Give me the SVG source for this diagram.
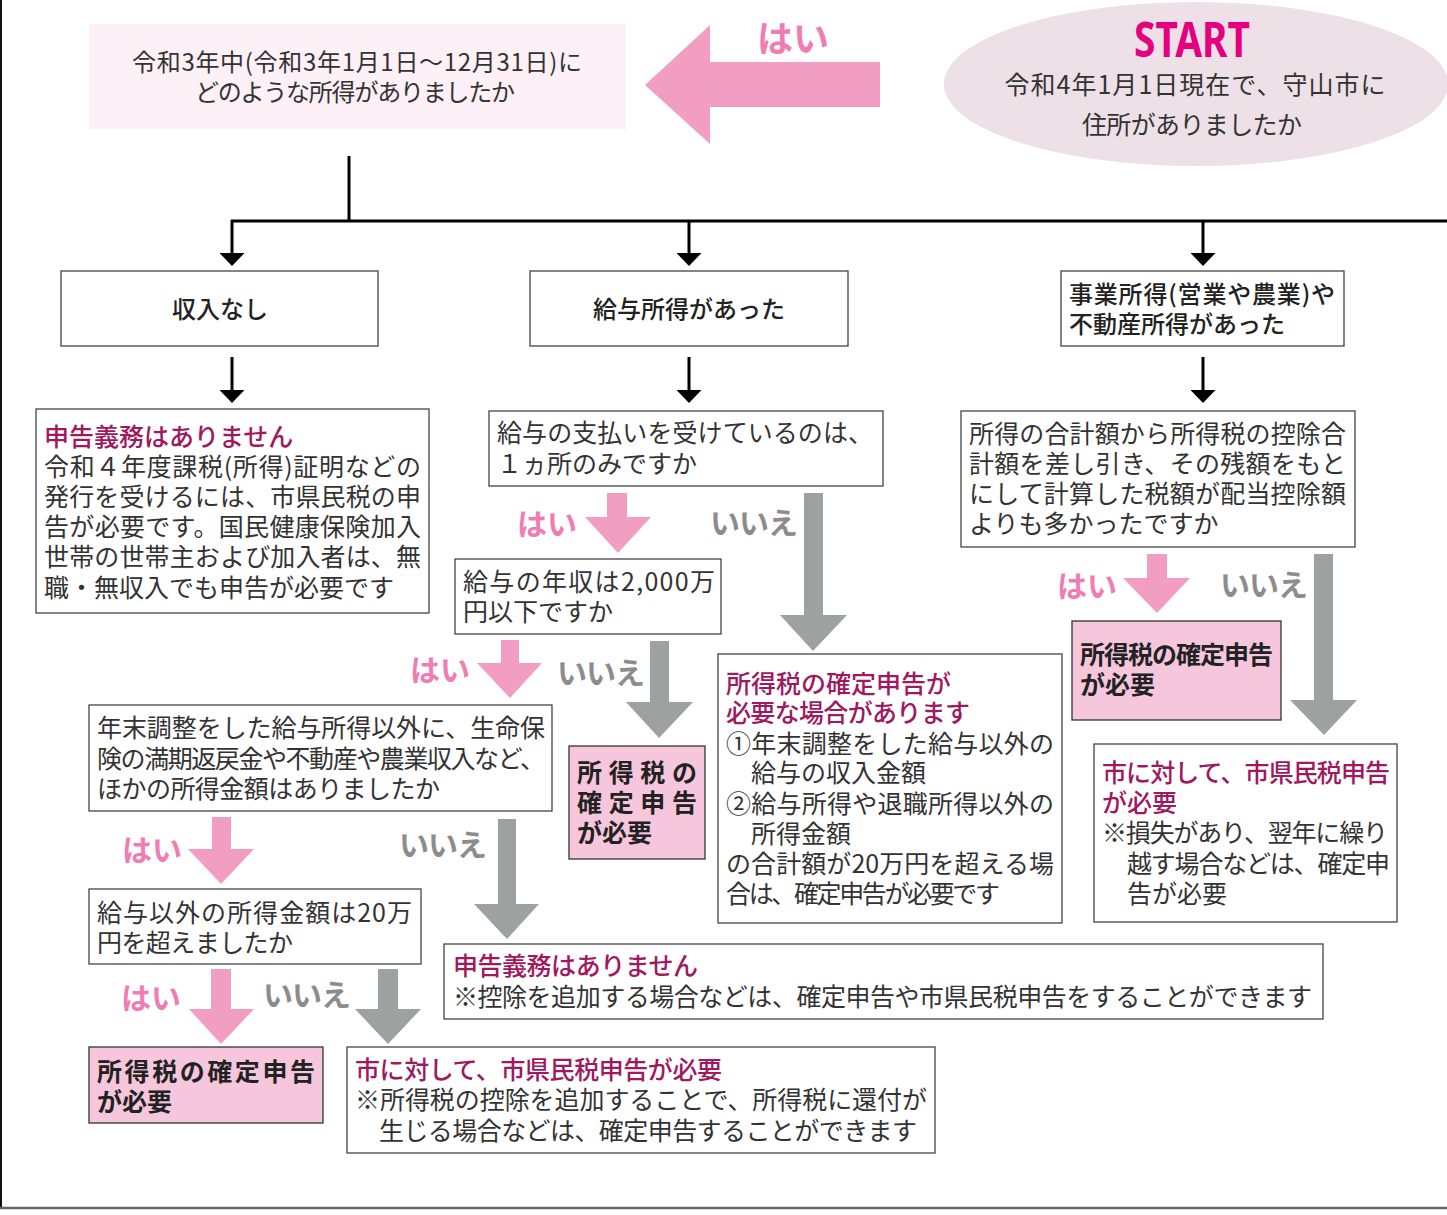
<svg xmlns="http://www.w3.org/2000/svg" width="1447" height="1215" viewBox="0 0 1447 1215">
<defs>
<style>
text{font-family:"Noto Sans CJK JP","Noto Sans",sans-serif;fill:#333;}
.t{font-size:25px;}
.m{font-size:25px;fill:#a0185e;font-weight:500;}
.h{font-size:24px;font-weight:500;fill:#222;}
.b{font-size:25px;font-weight:700;fill:#222;}
.yes{font-size:30px;font-weight:700;fill:#f07cb2;}
.no{font-size:30px;font-weight:700;fill:#8c8c8c;}
.box{fill:#fff;stroke:#444;stroke-width:1.3;}
.pbox{fill:#f6c7dc;stroke:#333;stroke-width:1.3;}
.pa{fill:#f19ec2;}
.ga{fill:#9fa0a0;}
.ln{fill:none;stroke:#000;stroke-width:3;}
</style>
<marker id="ah" viewBox="0 0 13 25" refX="5" refY="12.5" markerWidth="13" markerHeight="25" markerUnits="userSpaceOnUse" orient="auto">
<path d="M0,0 L13,12.5 L0,25 Z" fill="#000"/>
</marker>
</defs>
<rect x="0" y="0" width="1447" height="1215" fill="#fff"/>
<line x1="1" y1="0" x2="1" y2="1208" stroke="#111" stroke-width="2"/>
<line x1="0" y1="1208" x2="1447" y2="1208" stroke="#666" stroke-width="2.5"/>

<g id="connectors">
<polyline class="ln" points="349,156 349,221"/>
<polyline class="ln" points="231,221 1447,221"/>
<line class="ln" x1="232" y1="220" x2="232" y2="258" marker-end="url(#ah)"/>
<line class="ln" x1="689" y1="221" x2="689" y2="258" marker-end="url(#ah)"/>
<line class="ln" x1="1203" y1="221" x2="1203" y2="258" marker-end="url(#ah)"/>
<line class="ln" x1="232" y1="357" x2="232" y2="395" marker-end="url(#ah)"/>
<line class="ln" x1="689" y1="357" x2="689" y2="395" marker-end="url(#ah)"/>
<line class="ln" x1="1203" y1="357" x2="1203" y2="395" marker-end="url(#ah)"/>
<polygon class="pa" points="645,85 710,25 710,62 880,62 880,107 710,107 710,144"/>
<polygon class="pa" points="607,493 627,493 627,517 651,517 618,553 585,517 607,517"/>
<polygon class="ga" points="804,493 823,493 823,615 847,615 813,651 780,615 804,615"/>
<polygon class="pa" points="501,640 519,640 519,663 542,663 510,698 477,663 501,663"/>
<polygon class="ga" points="650,641 669,641 669,702 693,702 659,738 626,702 650,702"/>
<polygon class="pa" points="1147,554 1167,554 1167,578 1190,578 1157,613 1123,578 1147,578"/>
<polygon class="ga" points="1314,554 1333,554 1333,700 1357,700 1324,735 1290,700 1314,700"/>
<polygon class="pa" points="212,817 231,817 231,849 254,849 221,884 188,849 212,849"/>
<polygon class="ga" points="498,819 516,819 516,904 539,904 507,939 474,904 498,904"/>
<polygon class="pa" points="211,969 231,969 231,1009 254,1009 221,1044 189,1009 211,1009"/>
<polygon class="ga" points="378,969 398,969 398,1009 421,1009 388,1044 355,1009 378,1009"/>
<text x="757" y="52" style="font-size:36px;font-weight:700;fill:#f07cb2">はい</text>
<text class="yes" x="517" y="535">はい</text>
<text class="no" x="710" y="534" textLength="88">いいえ</text>
<text class="yes" x="410" y="681">はい</text>
<text class="no" x="557" y="684" textLength="88">いいえ</text>
<text class="yes" x="1057" y="597">はい</text>
<text class="no" x="1220" y="596" textLength="88">いいえ</text>
<text class="yes" x="122" y="861">はい</text>
<text class="no" x="399" y="856" textLength="88">いいえ</text>
<text class="yes" x="121" y="1009">はい</text>
<text class="no" x="263" y="1006" textLength="88">いいえ</text>
</g>

<g id="start">
<ellipse cx="1196" cy="84" rx="252" ry="82" fill="#ede0e7"/>
<text x="1192" y="57" text-anchor="middle" textLength="116" lengthAdjust="spacingAndGlyphs" style="font-family:'Noto Sans',sans-serif;font-size:48px;font-weight:700;fill:#e4007f">START</text>
<text class="t" x="1195" y="94" text-anchor="middle" textLength="381">令和4年1月1日現在で、守山市に</text>
<text class="t" x="1192" y="134" text-anchor="middle" textLength="220">住所がありましたか</text>
</g>

<g id="q-income">
<rect x="89" y="24" width="537" height="105" fill="#fdf0f6"/>
<text x="357" y="71" text-anchor="middle" textLength="450" style="font-size:24px">令和3年中(令和3年1月1日～12月31日)に</text>
<text x="355" y="101" text-anchor="middle" textLength="320" style="font-size:24px">どのような所得がありましたか</text>
</g>

<g id="no-income">
<rect class="box" x="61" y="271" width="317" height="75"/>
<text class="h" x="220" y="318" text-anchor="middle">収入なし</text>
</g>

<g id="salary">
<rect class="box" x="530" y="271" width="318" height="75"/>
<text class="h" x="689" y="318" text-anchor="middle">給与所得があった</text>
</g>

<g id="business">
<rect class="box" x="1061" y="271" width="283" height="75"/>
<text class="h" x="1069" y="303" textLength="266">事業所得(営業や農業)や</text>
<text class="h" x="1069" y="333">不動産所得があった</text>
</g>

<g id="no-duty-1">
<rect class="box" x="36" y="409" width="393" height="204"/>
<text class="m" x="44" y="446">申告義務はありません</text>
<text class="t" x="44" y="476" textLength="377">令和４年度課税(所得)証明などの</text>
<text class="t" x="44" y="506" textLength="377">発行を受けるには、市県民税の申</text>
<text class="t" x="44" y="536" textLength="377">告が必要です。国民健康保険加入</text>
<text class="t" x="44" y="566" textLength="377">世帯の世帯主および加入者は、無</text>
<text class="t" x="44" y="597">職・無収入でも申告が必要です</text>
</g>

<g id="q-one-payer">
<rect class="box" x="489" y="411" width="394" height="75"/>
<text class="t" x="497" y="442" textLength="376">給与の支払いを受けているのは、</text>
<text class="t" x="497" y="473">１ヵ所のみですか</text>
</g>

<g id="q-20m">
<rect class="box" x="455" y="559" width="266" height="75"/>
<text class="t" x="463" y="591" textLength="252">給与の年収は2,000万</text>
<text class="t" x="463" y="621">円以下ですか</text>
</g>

<g id="q-dividend">
<rect class="box" x="961" y="411" width="394" height="136"/>
<text class="t" x="969" y="443" textLength="377">所得の合計額から所得税の控除合</text>
<text class="t" x="969" y="473" textLength="377">計額を差し引き、その残額をもと</text>
<text class="t" x="969" y="503" textLength="377">にして計算した税額が配当控除額</text>
<text class="t" x="969" y="533">よりも多かったですか</text>
</g>

<g id="tax-required-right">
<rect class="pbox" x="1072" y="621" width="209" height="99"/>
<text class="b" x="1080" y="664" textLength="193">所得税の確定申告</text>
<text class="b" x="1080" y="694">が必要</text>
</g>

<g id="tax-required-mid">
<rect class="pbox" x="569" y="746" width="136" height="113"/>
<text class="b" x="577" y="782" textLength="120">所得税の</text>
<text class="b" x="577" y="812" textLength="120">確定申告</text>
<text class="b" x="577" y="842">が必要</text>
</g>

<g id="tax-maybe">
<rect class="box" x="718" y="654" width="344" height="269"/>
<text class="m" x="726" y="693">所得税の確定申告が</text>
<text class="m" x="726" y="722" textLength="244">必要な場合があります</text>
<text class="t" x="726" y="753" textLength="328">①年末調整をした給与以外の</text>
<text class="t" x="751" y="782">給与の収入金額</text>
<text class="t" x="726" y="813" textLength="328">②給与所得や退職所得以外の</text>
<text class="t" x="751" y="843">所得金額</text>
<text class="t" x="726" y="873" textLength="328">の合計額が20万円を超える場</text>
<text class="t" x="726" y="903" textLength="274">合は、確定申告が必要です</text>
</g>

<g id="city-tax-right">
<rect class="box" x="1094" y="744" width="303" height="178"/>
<text class="m" x="1102" y="782" textLength="288">市に対して、市県民税申告</text>
<text class="m" x="1102" y="812">が必要</text>
<text class="t" x="1102" y="842" textLength="286">※損失があり、翌年に繰り</text>
<text class="t" x="1127" y="873" textLength="263">越す場合などは、確定申</text>
<text class="t" x="1127" y="903">告が必要</text>
</g>

<g id="q-other-income">
<rect class="box" x="89" y="705" width="463" height="106"/>
<text class="t" x="97" y="737" textLength="448">年末調整をした給与所得以外に、生命保</text>
<text class="t" x="97" y="768" textLength="448">険の満期返戻金や不動産や農業収入など、</text>
<text class="t" x="97" y="798" textLength="343">ほかの所得金額はありましたか</text>
</g>

<g id="q-over-200k">
<rect class="box" x="89" y="889" width="332" height="75"/>
<text class="t" x="97" y="922" textLength="315">給与以外の所得金額は20万</text>
<text class="t" x="97" y="952" textLength="196">円を超えましたか</text>
</g>

<g id="no-duty-2">
<rect class="box" x="444" y="944" width="879" height="75"/>
<text class="m" x="453" y="975" textLength="245">申告義務はありません</text>
<text class="t" x="453" y="1006" textLength="859">※控除を追加する場合などは、確定申告や市県民税申告をすることができます</text>
</g>

<g id="tax-required-left">
<rect class="pbox" x="89" y="1047" width="234" height="76"/>
<text class="b" x="97" y="1081" textLength="218">所得税の確定申告</text>
<text class="b" x="97" y="1111">が必要</text>
</g>

<g id="city-tax-bottom">
<rect class="box" x="347" y="1047" width="588" height="106"/>
<text class="m" x="355" y="1079" textLength="367">市に対して、市県民税申告が必要</text>
<text class="t" x="355" y="1109" textLength="572">※所得税の控除を追加することで、所得税に還付が</text>
<text class="t" x="379" y="1140" textLength="538">生じる場合などは、確定申告することができます</text>
</g>
</svg>
